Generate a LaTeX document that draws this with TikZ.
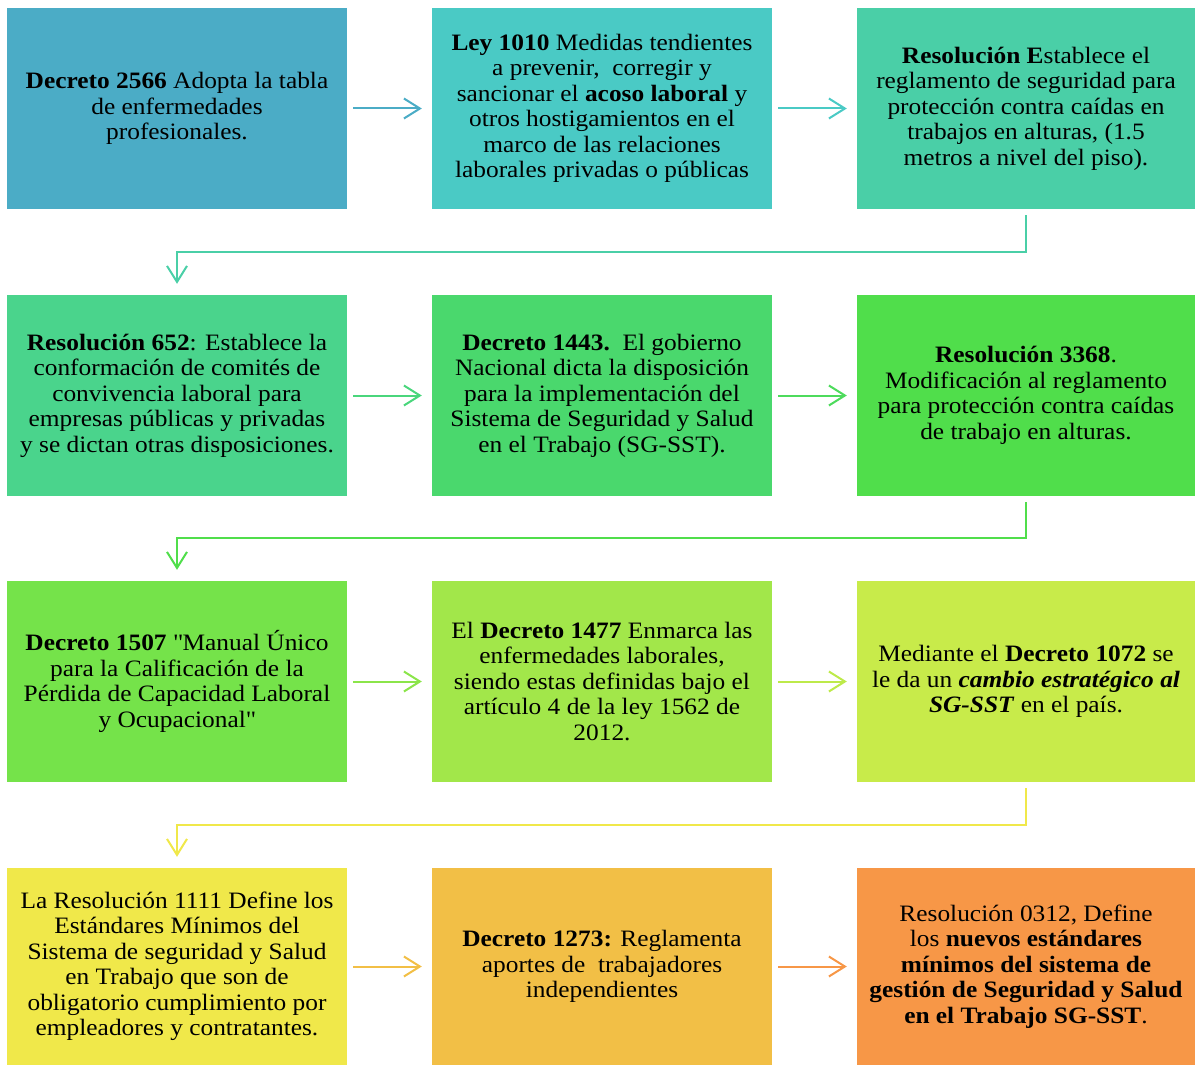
\documentclass[tikz,border=0pt]{standalone}
\usepackage{fontspec}
\setmainfont{Liberation Serif}[FakeStretch=1.08]
\usetikzlibrary{arrows.meta}
\definecolor{c1}{HTML}{4BACC6}
\definecolor{c2}{HTML}{4ACAC5}
\definecolor{c3}{HTML}{4ACFA7}
\definecolor{c4}{HTML}{4AD48C}
\definecolor{c5}{HTML}{4AD86D}
\definecolor{c6}{HTML}{50DE4B}
\definecolor{c7}{HTML}{75E34A}
\definecolor{c8}{HTML}{A2E74A}
\definecolor{c9}{HTML}{C8EB4A}
\definecolor{c10}{HTML}{F0E84A}
\definecolor{c11}{HTML}{F2BF46}
\definecolor{c12}{HTML}{F79747}
\newcommand{\sq}{\XeTeXglyph\XeTeXcharglyph"22\relax}
\tikzset{
  box/.style={rectangle, draw=none, inner sep=0pt, minimum width=340pt, minimum height=201pt,
    align=center, font=\fontsize{23.5}{25.5}\selectfont, text=black},
  lastbox/.style={box, minimum width=338pt},
  rowfour/.style={minimum height=197pt},
  flow/.style={line width=2pt, -{Straight Barb[length=16pt,width=20pt,line width=2pt]}},
  hflow/.style={flow, shorten <=6pt, shorten >=10pt},
  eflow/.style={flow, shorten <=6pt, shorten >=11pt}
}
\begin{document}
\begin{tikzpicture}[x=1pt,y=-1pt]
\useasboundingbox (0,0) rectangle (1195,1065);
% row 1
\node[box, fill=c1] (n1) at (177,108.5) {\textbf{Decreto 2566} Adopta la tabla\\de enfermedades\\profesionales.};
\node[box, fill=c2] (n2) at (602,108.5) {\textbf{Ley 1010} Medidas tendientes\\a prevenir,\ \ corregir y\\sancionar el \textbf{acoso laboral} y\\otros hostigamientos en el\\marco de las relaciones\\laborales privadas o públicas};
\node[lastbox, fill=c3] (n3) at (1026,108.5) {\textbf{Resolución E}stablece el\\reglamento de seguridad para\\protección contra caídas en\\trabajos en alturas, (1.5\\metros a nivel del piso).};
% row 2
\node[box, fill=c4] (n4) at (177,395.5) {\textbf{Resolución 652}: Establece la\\conformación de comités de\\convivencia laboral para\\empresas públicas y privadas\\y se dictan otras disposiciones.};
\node[box, fill=c5] (n5) at (602,395.5) {\textbf{Decreto 1443.}\ \ El gobierno\\Nacional dicta la disposición\\para la implementación del\\Sistema de Seguridad y Salud\\en el Trabajo (SG-SST).};
\node[lastbox, fill=c6] (n6) at (1026,395.5) {\textbf{Resolución 3368}.\\Modificación al reglamento\\para protección contra caídas\\de trabajo en alturas.};
% row 3
\node[box, fill=c7] (n7) at (177,681.5) {\textbf{Decreto 1507} \sq Manual Único\\para la Calificación de la\\Pérdida de Capacidad Laboral\\y Ocupacional\sq};
\node[box, fill=c8] (n8) at (602,681.5) {El \textbf{Decreto 1477} Enmarca las\\enfermedades laborales,\\siendo estas definidas bajo el\\artículo 4 de la ley 1562 de\\2012.};
\node[lastbox, fill=c9] (n9) at (1026,681.5) {Mediante el \textbf{Decreto 1072} se\\le da un \textbf{\textit{cambio estratégico al}}\\\textbf{\textit{SG-SST}} en el país.};
% row 4
\node[box, rowfour, fill=c10] (n10) at (177,966.5) {La Resolución 1111 Define los\\Estándares Mínimos del\\Sistema de seguridad y Salud\\en Trabajo que son de\\obligatorio cumplimiento por\\empleadores y contratantes.};
\node[box, rowfour, fill=c11] (n11) at (602,966.5) {\textbf{Decreto 1273:} Reglamenta\\aportes de\ \ trabajadores\\independientes};
\node[lastbox, rowfour, fill=c12] (n12) at (1026,966.5) {Resolución 0312, Define\\los \textbf{nuevos estándares}\\\textbf{mínimos del sistema de}\\\textbf{gestión de Seguridad y Salud}\\\textbf{en el Trabajo SG-SST}.};
% connectors
\draw[hflow, c1] (n1) -- (n2);
\draw[hflow, c2] (n2) -- (n3);
\draw[eflow, c3] (n3.south) -- ++(0,43) -| (n4.north);
\draw[hflow, c4!50!c5] (n4) -- (n5);
\draw[hflow, c5!50!c6] (n5) -- (n6);
\draw[eflow, c6] (n6.south) -- ++(0,42) -| (n7.north);
\draw[hflow, c7!50!c8] (n7) -- (n8);
\draw[hflow, c9!70!c8] (n8) -- (n9);
\draw[eflow, c10] (n9.south) -- ++(0,43) -| (n10.north);
\draw[hflow, c11] (n10) -- (n11);
\draw[hflow, c12] (n11) -- (n12);
\end{tikzpicture}
\end{document}
